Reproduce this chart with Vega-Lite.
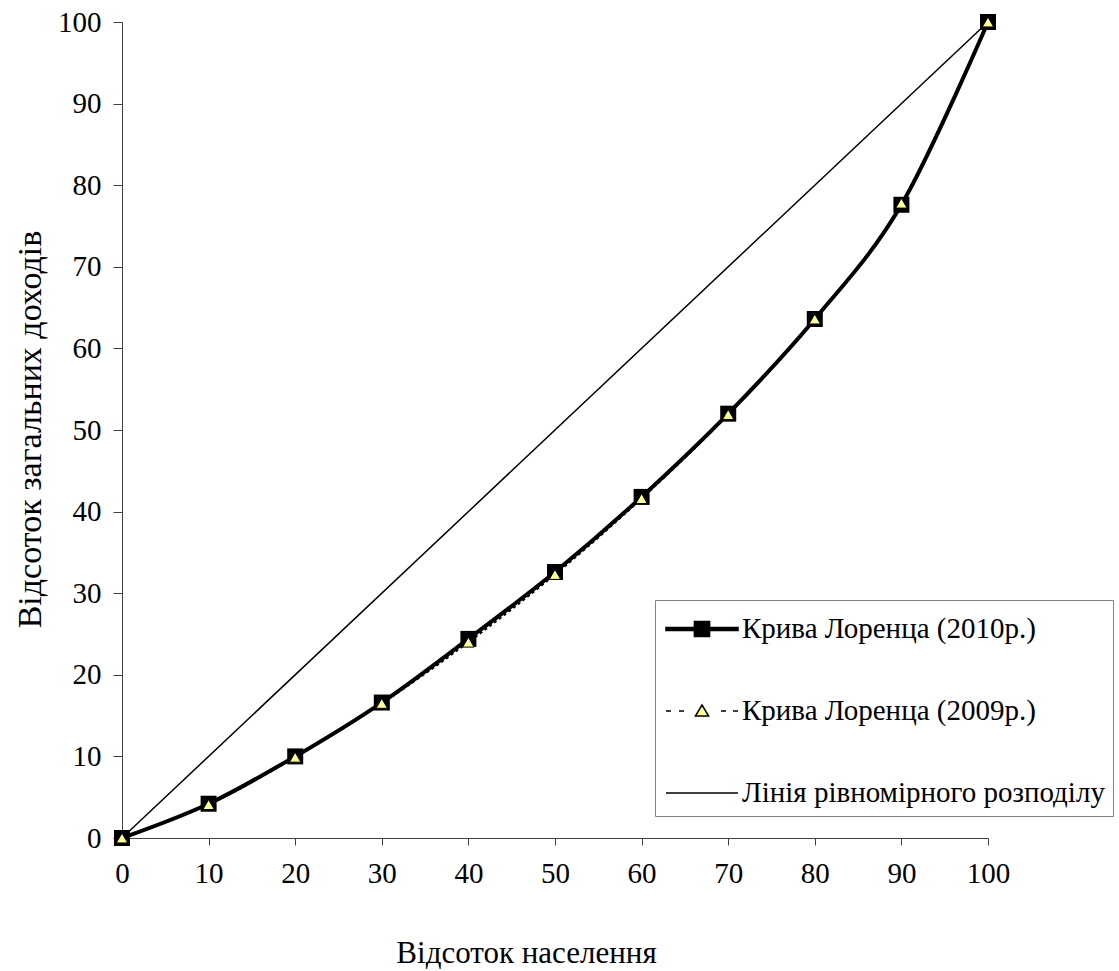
{
  "$schema": "https://vega.github.io/schema/vega-lite/v6.json",
  "width": 866,
  "height": 816,
  "autosize": {"type": "none"},
  "padding": {"left": 122, "top": 22, "right": 131, "bottom": 133},
  "background": "white",
  "config": {
    "view": {"stroke": null},
    "font": "Liberation Serif, DejaVu Serif, serif",
    "axis": {
      "grid": false,
      "domainColor": "#404040",
      "tickColor": "#404040",
      "labelFont": "Liberation Serif, DejaVu Serif, serif",
      "titleFont": "Liberation Serif, DejaVu Serif, serif",
      "labelColor": "black",
      "titleColor": "black",
      "titleFontWeight": "normal",
      "labelFontSize": 29,
      "labelFlush": false
    },
    "legend": {
      "labelFont": "Liberation Serif, DejaVu Serif, serif",
      "labelFontSize": 29,
      "labelColor": "black"
    }
  },
  "data": {
    "values": [
      {"x": 0, "y": 0, "series": "Крива Лоренца  (2010р.)"},
      {"x": 10, "y": 4.2, "series": "Крива Лоренца  (2010р.)"},
      {"x": 20, "y": 10.0, "series": "Крива Лоренца  (2010р.)"},
      {"x": 30, "y": 16.6, "series": "Крива Лоренца  (2010р.)"},
      {"x": 40, "y": 24.4, "series": "Крива Лоренца  (2010р.)"},
      {"x": 50, "y": 32.6, "series": "Крива Лоренца  (2010р.)"},
      {"x": 60, "y": 41.8, "series": "Крива Лоренца  (2010р.)"},
      {"x": 70, "y": 52.0, "series": "Крива Лоренца  (2010р.)"},
      {"x": 80, "y": 63.6, "series": "Крива Лоренца  (2010р.)"},
      {"x": 90, "y": 77.6, "series": "Крива Лоренца  (2010р.)"},
      {"x": 100, "y": 100, "series": "Крива Лоренца  (2010р.)"},
      {"x": 0, "y": 0, "series": "Крива Лоренца  (2009р.)"},
      {"x": 10, "y": 4.1, "series": "Крива Лоренца  (2009р.)"},
      {"x": 20, "y": 9.9, "series": "Крива Лоренца  (2009р.)"},
      {"x": 30, "y": 16.5, "series": "Крива Лоренца  (2009р.)"},
      {"x": 40, "y": 24.0, "series": "Крива Лоренца  (2009р.)"},
      {"x": 50, "y": 32.3, "series": "Крива Лоренца  (2009р.)"},
      {"x": 60, "y": 41.6, "series": "Крива Лоренца  (2009р.)"},
      {"x": 70, "y": 51.9, "series": "Крива Лоренца  (2009р.)"},
      {"x": 80, "y": 63.6, "series": "Крива Лоренца  (2009р.)"},
      {"x": 90, "y": 77.8, "series": "Крива Лоренца  (2009р.)"},
      {"x": 100, "y": 100, "series": "Крива Лоренца  (2009р.)"},
      {"x": 0, "y": 0, "series": "Лінія рівномірного розподілу"},
      {"x": 100, "y": 100, "series": "Лінія рівномірного розподілу"}
    ]
  },
  "encoding": {
    "x": {
      "field": "x", "type": "quantitative",
      "scale": {"domain": [0, 100], "nice": false, "zero": false},
      "axis": {
        "title": "Відсоток населення",
        "titleFontSize": 31,
        "values": [0, 10, 20, 30, 40, 50, 60, 70, 80, 90, 100],
        "format": "d",
        "tickSize": 7,
        "labelPadding": 14,
        "labelBaseline": "top",
        "titleX": 404,
        "titleY": 124,
        "titleBaseline": "alphabetic",
        "titleAlign": "center"
      }
    },
    "y": {
      "field": "y", "type": "quantitative",
      "scale": {"domain": [0, 100], "nice": false, "zero": false},
      "axis": {
        "title": "Відсоток загальних доходів",
        "titleFontSize": 34,
        "values": [0, 10, 20, 30, 40, 50, 60, 70, 80, 90, 100],
        "format": "d",
        "tickSize": 9,
        "labelPadding": 12,
        "titleAngle": -90,
        "titleX": -82,
        "titleY": 407,
        "titleBaseline": "alphabetic",
        "titleAlign": "center"
      }
    }
  },
  "layer": [
    {
      "transform": [{"filter": "datum.series === 'Лінія рівномірного розподілу'"}],
      "mark": {"type": "line", "color": "black", "strokeWidth": 1.5}
    },
    {
      "transform": [{"filter": "datum.series === 'Крива Лоренца  (2010р.)'"}],
      "mark": {"type": "line", "color": "black", "strokeWidth": 4, "interpolate": "cardinal"}
    },
    {
      "transform": [{"filter": "datum.series === 'Крива Лоренца  (2009р.)'"}],
      "mark": {"type": "line", "color": "black", "strokeWidth": 2, "strokeDash": [3, 3], "interpolate": "cardinal"}
    },
    {
      "transform": [{"filter": "datum.series === 'Крива Лоренца  (2010р.)'"}],
      "mark": {"type": "point", "shape": "square", "filled": true, "color": "black", "opacity": 1, "size": 256}
    },
    {
      "transform": [{"filter": "datum.series === 'Крива Лоренца  (2009р.)'"}],
      "mark": {"type": "point", "shape": "triangle-up", "fill": "#FFFF99", "stroke": "black", "strokeWidth": 1, "opacity": 1, "fillOpacity": 1, "size": 130}
    },
    {
      "mark": {"type": "point", "opacity": 0, "size": 1600, "stroke": "black", "strokeWidth": 1.5},
      "encoding": {
        "shape": {
          "field": "series", "type": "nominal",
          "scale": {
            "domain": ["Крива Лоренца  (2010р.)", "Крива Лоренца  (2009р.)", "Лінія рівномірного розподілу"],
            "range": [
              "M-1.8,-0.07H1.8V0.07H-1.8Z M-0.38,-0.38H0.38V0.38H-0.38Z",
              "M-1.8,0H-1.55M-1.15,0H-0.9M0.95,0H1.2M1.55,0H1.8M0,-0.3L0.33,0.25H-0.33Z",
              "M-1.8,0H1.8"
            ]
          },
          "legend": {
            "orient": "none",
            "legendX": 533,
            "legendY": 578,
            "title": null,
            "strokeColor": "#808080",
            "padding": 8,
            "symbolOffset": 18,
            "labelOffset": 19,
            "rowPadding": 46,
            "labelFont": "Liberation Serif, DejaVu Serif, serif",
            "labelFontSize": 29,
            "labelColor": "black",
            "labelLimit": 0,
            "symbolOpacity": 1,
            "symbolStrokeColor": "black",
            "symbolStrokeWidth": 1.5,
            "symbolSize": 1600,
            "encode": {
              "symbols": {
                "update": {
                  "stroke": {"value": "black"},
                  "strokeWidth": {"value": 1.5},
                  "opacity": {"value": 1}
                }
              }
            }
          }
        },
        "fill": {
          "field": "series", "type": "nominal",
          "scale": {
            "domain": ["Крива Лоренца  (2010р.)", "Крива Лоренца  (2009р.)", "Лінія рівномірного розподілу"],
            "range": ["black", "#FFFF99", "transparent"]
          },
          "legend": {
            "orient": "none",
            "legendX": 533,
            "legendY": 578,
            "title": null,
            "strokeColor": "#808080",
            "padding": 8,
            "symbolOffset": 18,
            "labelOffset": 19,
            "rowPadding": 46,
            "labelFont": "Liberation Serif, DejaVu Serif, serif",
            "labelFontSize": 29,
            "labelColor": "black",
            "labelLimit": 0,
            "symbolOpacity": 1,
            "symbolStrokeColor": "black",
            "symbolStrokeWidth": 1.5,
            "symbolSize": 1600,
            "encode": {
              "symbols": {
                "update": {
                  "stroke": {"value": "black"},
                  "strokeWidth": {"value": 1.5},
                  "opacity": {"value": 1}
                }
              }
            }
          }
        }
      }
    }
  ]
}
